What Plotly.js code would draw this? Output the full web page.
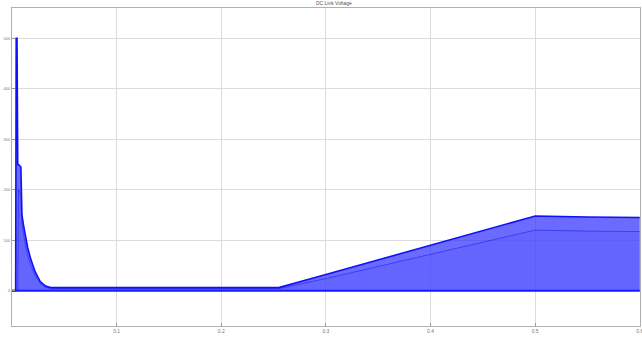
<!DOCTYPE html>
<html>
<head>
<meta charset="utf-8">
<script src="https://cdn.plot.ly/plotly-3.0.1.min.js"></script>
<style>html,body{margin:0;padding:0;background:#fff;}#chart{width:642px;height:342px;}</style>
</head>
<body>
<div id="chart"></div>
<script>
// time (s)
var time = [0, 0.0035, 0.0040, 0.0048, 0.0055, 0.0062, 0.0085, 0.0095, 0.0110, 0.0130, 0.0150, 0.0180, 0.0220, 0.0270, 0.0320, 0.0370, 0.1, 0.2, 0.255, 0.3, 0.35, 0.4, 0.45, 0.5, 0.55, 0.6];
// upper envelope of the oscillating DC link voltage (V)
var upperEnv = [0, 0, 500, 500, 250, 250, 245, 150, 130, 105, 85, 62, 38, 18, 9, 6, 6, 6, 6, 32, 61, 90, 118, 148, 146, 145];
// dense region just under the envelope (V)
var denseEnv = [0, 0, 0, 0, 0, 200, 190, 130, 110, 88, 70, 50, 30, 14, 7, 4, 4, 4, 4, 24, 48, 72, 96, 120, 118, 117];
var baseline = [0, 0, 0, 0, 0, 0, 0, 0, 0, 0, 0, 0, 0, 0, 0, 0, 0, 0, 0, 0, 0, 0, 0, 0, 0, 0];
var xTicks = [0.1, 0.2, 0.3, 0.4, 0.5, 0.6];
var xTickText = ["0.1", "0.2", "0.3", "0.4", "0.5", "0.6"];
var yTicks = [0, 100, 200, 300, 400, 500];
var yTickText = ["0", "100", "200", "300", "400", "500"];
var titleText = "DC Link Voltage";

var traces = [
  {x: time, y: baseline, mode: 'lines', line: {color: 'rgba(0,0,255,0)', width: 0}, hoverinfo: 'skip', showlegend: false},
  {x: time, y: upperEnv, mode: 'lines', fill: 'tonexty', fillcolor: 'rgba(50,50,255,0.72)', line: {color: '#1010ff', width: 1.6}, showlegend: false},
  {x: time, y: baseline, mode: 'lines', line: {color: 'rgba(0,0,255,0)', width: 0}, hoverinfo: 'skip', showlegend: false},
  {x: time, y: denseEnv, mode: 'lines', fill: 'tonexty', fillcolor: 'rgba(90,90,255,0.35)', line: {color: 'rgba(0,0,230,0.4)', width: 1}, showlegend: false},
  {x: time, y: baseline, mode: 'lines', line: {color: '#1a1aff', width: 2}, showlegend: false}
];

var layout = {
  width: 642, height: 342,
  margin: {l: 12, r: 2, t: 8, b: 16},
  paper_bgcolor: '#ffffff', plot_bgcolor: '#ffffff',
  title: {text: titleText, font: {family: 'Liberation Sans, Arial', size: 5, color: '#555'}, x: 0.52, xanchor: 'center', y: 0.995, yanchor: 'top'},
  xaxis: {range: [0, 0.6002], tickvals: xTicks, ticktext: xTickText, showgrid: true, gridcolor: '#dcdcdc', gridwidth: 1,
          zeroline: false, showline: true, linecolor: '#b0b0b0', linewidth: 1, mirror: true, ticklabeloverflow: 'allow',
          ticks: 'inside', ticklen: 3, tickcolor: '#999', tickfont: {family: 'Liberation Sans, Arial', size: 5, color: '#777'}},
  yaxis: {range: [-70, 560], tickvals: yTicks, ticktext: yTickText, showgrid: true, gridcolor: '#dcdcdc', gridwidth: 1,
          zeroline: false, showline: true, linecolor: '#b0b0b0', linewidth: 1, mirror: true,
          ticks: 'inside', ticklen: 3, tickcolor: '#999', tickfont: {family: 'Liberation Sans, Arial', size: 4, color: '#777'}},
  showlegend: false
};

Plotly.newPlot('chart', traces, layout, {staticPlot: true, displayModeBar: false});
</script>
</body>
</html>
